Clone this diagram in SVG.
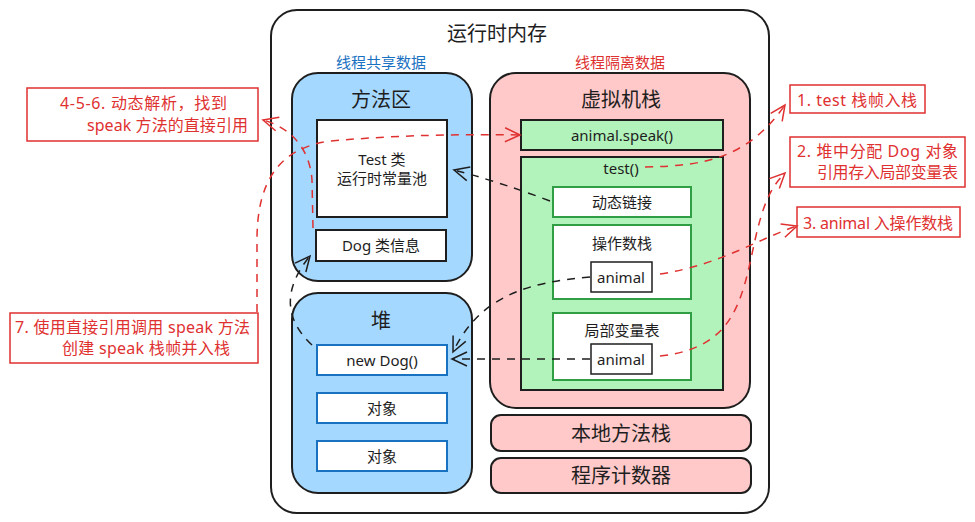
<svg xmlns="http://www.w3.org/2000/svg" width="975" height="522" viewBox="0 0 975 522">
<style>
text{font-family:"Noto Sans","Noto Sans CJK SC",sans-serif;fill:#1e1e1e;text-anchor:middle;dominant-baseline:central}
.t20{font-size:20px}
.t15{font-size:15px}
.t14{font-size:14px}
.note{font-size:16px;fill:#e03131;text-anchor:start}
.box{stroke:#1e1e1e;stroke-width:2}
.blue{fill:#a5d8ff}
.pink{fill:#ffc9c9}
.green{fill:#b2f2bb}
.white{fill:#ffffff}
.bstroke{fill:#ffffff;stroke:#1971c2;stroke-width:2}
.gstroke{fill:#ffffff;stroke:#2f9e44;stroke-width:2}
.nbox{fill:#ffffff;stroke:#e03131;stroke-width:1.5}
.red{fill:none;stroke:#e03131;stroke-width:1.5;stroke-dasharray:8 7}
.blk{fill:none;stroke:#1e1e1e;stroke-width:1.5;stroke-dasharray:8 7}
</style>
<defs>
<marker id="ar" viewBox="-16 -9 18 18" markerWidth="18" markerHeight="18" refX="0" refY="0" orient="auto" markerUnits="userSpaceOnUse">
<path d="M-15 -7 L0 0 L-15 7" fill="none" stroke="#e03131" stroke-width="1.5"/>
</marker>
<marker id="ab" viewBox="-16 -9 18 18" markerWidth="18" markerHeight="18" refX="0" refY="0" orient="auto" markerUnits="userSpaceOnUse">
<path d="M-15 -7 L0 0 L-15 7" fill="none" stroke="#1e1e1e" stroke-width="1.5"/>
</marker>
</defs>
<rect width="975" height="522" fill="#ffffff"/>

<g id="runtime-memory">
<rect x="271" y="10" width="498" height="503" rx="26" fill="#ffffff" class="box"/>
<text x="497" y="33" class="t20">运行时内存</text>
<text x="381" y="62" class="t15" style="fill:#1971c2">线程共享数据</text>
<text x="620" y="62" class="t15" style="fill:#e03131">线程隔离数据</text>
</g>

<g id="method-area">
<rect x="292" y="73" width="180" height="208" rx="26" class="box blue"/>
<text x="381" y="99" class="t20">方法区</text>
</g>
<g id="test-class">
<rect x="317" y="120" width="130" height="97" class="box white"/>
<text x="382" y="159" class="t15">Test 类</text>
<text x="382" y="178" class="t15">运行时常量池</text>
</g>
<g id="dog-class">
<rect x="316" y="230" width="130" height="31" class="box white"/>
<text x="381" y="245" class="t15">Dog 类信息</text>
</g>

<g id="heap">
<rect x="292" y="293" width="180" height="200" rx="26" class="box blue"/>
<text x="381" y="320" class="t20">堆</text>
</g>
<g id="new-dog">
<rect x="317" y="345" width="130" height="30" class="bstroke"/>
<text x="382" y="360" class="t15">new Dog()</text>
</g>
<g id="obj1">
<rect x="317" y="393" width="130" height="30" class="bstroke"/>
<text x="382" y="408" class="t15">对象</text>
</g>
<g id="obj2">
<rect x="317" y="441" width="130" height="30" class="bstroke"/>
<text x="382" y="456" class="t15">对象</text>
</g>

<g id="vm-stack">
<rect x="490" y="73" width="260" height="335" rx="26" class="box pink"/>
<text x="621" y="99" class="t20">虚拟机栈</text>
</g>
<g id="speak-frame">
<rect x="521" y="120" width="202" height="30" class="box green"/>
<text x="622" y="135" class="t15">animal.speak()</text>
</g>
<g id="test-frame">
<rect x="521" y="157" width="202" height="233" class="box green"/>
<text x="621" y="168" class="t15">test()</text>
</g>
<g id="dynamic-link">
<rect x="553" y="187" width="138" height="30" class="gstroke"/>
<text x="622" y="202" class="t15">动态链接</text>
</g>
<g id="operand-stack">
<rect x="553" y="225" width="138" height="74" class="gstroke"/>
<text x="622" y="243" class="t15">操作数栈</text>
</g>
<g id="operand-animal">
<rect x="591" y="262" width="61" height="30" fill="#ffffff" stroke="#1e1e1e" stroke-width="1.5"/>
<text x="621" y="277" class="t15">animal</text>
</g>
<g id="local-vars">
<rect x="553" y="313" width="138" height="67" class="gstroke"/>
<text x="622" y="330" class="t15">局部变量表</text>
</g>
<g id="local-animal">
<rect x="591" y="344" width="61" height="30" fill="#ffffff" stroke="#1e1e1e" stroke-width="1.5"/>
<text x="621" y="359" class="t15">animal</text>
</g>

<g id="native-stack">
<rect x="491" y="415" width="260" height="36" rx="10" class="box pink"/>
<text x="621" y="433" class="t20">本地方法栈</text>
</g>
<g id="pc">
<rect x="491" y="458" width="260" height="35" rx="10" class="box pink"/>
<text x="621" y="475" class="t20">程序计数器</text>
</g>

<g id="note-456">
<rect x="27" y="88" width="231" height="53" class="nbox"/>
<text x="60" y="103" class="note" textLength="167">4-5-6. 动态解析，找到</text>
<text x="87" y="125" class="note" textLength="161">speak 方法的直接引用</text>
</g>
<g id="note-7">
<rect x="10" y="313" width="248" height="50" class="nbox"/>
<text x="15" y="327" class="note" textLength="235">7. 使用直接引用调用 speak 方法</text>
<text x="62" y="348" class="note" textLength="168">创建 speak 栈帧并入栈</text>
</g>
<g id="note-1">
<rect x="790" y="85" width="135" height="28" class="nbox"/>
<text x="797" y="100" class="note" textLength="120">1. test 栈帧入栈</text>
</g>
<g id="note-2">
<rect x="790" y="137" width="175" height="50" class="nbox"/>
<text x="797" y="151" class="note" textLength="161">2. 堆中分配 Dog 对象</text>
<text x="817" y="172" class="note" textLength="141">引用存入局部变量表</text>
</g>
<g id="note-3">
<rect x="797" y="207" width="163" height="30" class="nbox"/>
<text x="803" y="223" class="note" textLength="150">3. animal 入操作数栈</text>
</g>

<g id="connectors">
<path class="red" d="M645 167 C705 166 748 158 785 105" marker-end="url(#ar)"/>
<path class="red" d="M660 356 C735 348 742 300 755 240 C763 205 770 188 785 173" marker-end="url(#ar)"/>
<path class="red" d="M660 274 C720 265 760 238 797 226" marker-end="url(#ar)"/>
<path class="red" d="M313 228 L312 180 C310 150 292 128 263 120" marker-end="url(#ar)"/>
<path class="red" d="M257 312 L257 240 C257 180 280 148 330 141 C400 135 460 134 520 135" marker-end="url(#ar)"/>
<path class="blk" d="M550 201 Q500 182 454 170" marker-end="url(#ab)"/>
<path class="blk" d="M590 277 C530 282 480 295 453 352" marker-end="url(#ab)"/>
<path class="blk" d="M590 359 L452 359" marker-end="url(#ab)"/>
<path class="blk" d="M312 345 C285 320 282 290 310 256" marker-end="url(#ab)"/>
</g>
</svg>
